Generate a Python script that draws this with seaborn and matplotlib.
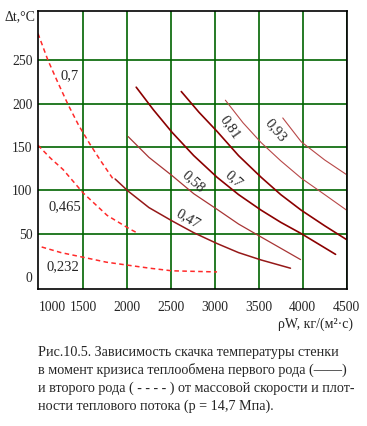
"""Wall temperature jump vs mass velocity (fig. 10.5)."""

import matplotlib

matplotlib.use("Agg")
import matplotlib.pyplot as plt
import seaborn as sns

# dashed curves (crisis of the second kind)
dash_07_x = [987, 1101, 1215, 1329, 1450, 1580, 1694, 1842]
dash_07_y = [281, 250, 224, 199, 175, 153, 135, 113]
dash_0465_x = [987, 1130, 1272, 1500, 1774, 2036, 2113]
dash_0465_y = [152, 137, 124, 97, 71, 55, 51]
dash_0232_x = [1029, 1250, 1485, 1764, 2017, 2260, 2512, 3025]
dash_0232_y = [34.5, 28, 23, 17, 13.4, 10, 7, 5.7]

# solid curves (crisis of the first kind)
solid_047_x = [1865, 2013, 2250, 2515, 2760, 3025, 3270, 3527, 3861]
solid_047_y = [113, 99, 80, 64.5, 51, 38.5, 28, 19.5, 10]
solid_058_x = [2013, 2250, 2512, 2760, 3025, 3270, 3527, 3975]
solid_058_y = [162, 138, 117, 96, 78, 61, 46, 20]
solid_07_x = [2105, 2300, 2512, 2760, 3025, 3270, 3527, 3750, 3983, 4374]
solid_07_y = [219, 193, 167, 140, 115, 95, 77, 63, 50, 26]
solid_081_x = [2618, 2820, 3025, 3270, 3527, 3750, 3983, 4250, 4500]
solid_081_y = [214, 190, 168, 140, 115, 95, 77, 59, 43]
solid_093a_x = [3120, 3320, 3527, 3750, 3983, 4250, 4500]
solid_093a_y = [204, 178, 155, 134, 114, 95, 77]
solid_093b_x = [3773, 3983, 4250, 4500]
solid_093b_y = [183.5, 156, 135, 118]

x_ticks = [1000, 1500, 2000, 2500, 3000, 3500, 4000, 4500]
y_ticks = [0, 50, 100, 150, 200, 250]

curve_labels = ["0,7", "0,465", "0,232", "0,47", "0,58", "0,7", "0,81", "0,93"]
label_x = [1352, 1295, 1275, 2701, 2758, 3214, 3177, 3690]
label_y = [232, 81, 12, 67, 110, 113, 173, 169]
label_rot = [0, 0, 0, -30, -42, -42, -55, -50]

caption = [
    "Рис.10.5. Зависимость скачка температуры стенки",
    "в момент кризиса теплообмена первого рода (——)",
    "и второго рода ( - - - - ) от массовой скорости и плот-",
    "ности теплового потока (p = 14,7 Мпа).",
]

sns.set_style("white")
plt.rcParams["font.family"] = ["Liberation Serif", "DejaVu Serif"]
plt.rcParams["font.size"] = 9.5

fig = plt.figure(figsize=(3.67, 4.26), dpi=100)
ax = fig.add_axes([0.1035, 0.3216, 0.841, 0.6526])

dash_style = dict(color="#ff2a2a", linewidth=1.1, dashes=(3, 2.2))
for xs, ys in [(dash_07_x, dash_07_y), (dash_0465_x, dash_0465_y), (dash_0232_x, dash_0232_y)]:
    sns.lineplot(x=xs, y=ys, ax=ax, sort=False, **dash_style)

solid = [
    (solid_047_x, solid_047_y, "#951818", 1.1),
    (solid_058_x, solid_058_y, "#a83535", 0.9),
    (solid_07_x, solid_07_y, "#8b0000", 1.2),
    (solid_081_x, solid_081_y, "#8b0000", 1.2),
    (solid_093a_x, solid_093a_y, "#b84848", 0.8),
    (solid_093b_x, solid_093b_y, "#b84848", 0.8),
]
for xs, ys, col, lw in solid:
    sns.lineplot(x=xs, y=ys, ax=ax, sort=False, color=col, linewidth=lw)

for txt, lx, ly, rot in zip(curve_labels, label_x, label_y, label_rot):
    ax.text(lx, ly, txt, rotation=rot, ha="center", va="center", fontsize=10.5,
            rotation_mode="anchor")

ax.set_xlim(987, 4500)
ax.set_ylim(-14, 307)
ax.set_xticks(x_ticks)
ax.set_yticks(y_ticks)
ax.set_xticklabels([str(v) for v in x_ticks])
ax.set_yticklabels([str(v) for v in y_ticks])
ax.get_xticklabels()[0].set_horizontalalignment("left")
ax.tick_params(length=0, labelsize=9.8)
ax.tick_params(axis="x", pad=9)
ax.tick_params(axis="y", pad=4)

for v in x_ticks[1:]:
    ax.axvline(v, color="#006400", linewidth=1.2, zorder=0)
for v in y_ticks[1:]:
    ax.axhline(v, color="#006400", linewidth=1.2, zorder=0)
for s in ax.spines.values():
    s.set_color("black")
    s.set_linewidth(1.2)
    s.set_visible(True)

fig.text(35 / 367, 1 - 17 / 426, "Δt,°C", ha="right", va="center", fontsize=10)
fig.text(353 / 367, 1 - 324 / 426, "ρW, кг/(м²·с)", ha="right", va="center", fontsize=10)

for i, line in enumerate(caption):
    fig.text(38 / 367, 1 - (352.7 + 17.7 * i) / 426, line, ha="left", va="center", fontsize=10.2)

fig.savefig("out.png", dpi=100)
